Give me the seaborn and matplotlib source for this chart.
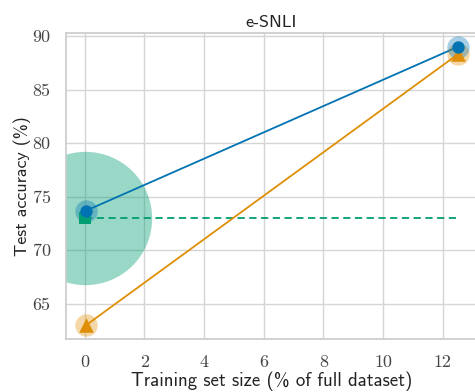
import matplotlib
matplotlib.use("Agg")
import matplotlib.pyplot as plt
import seaborn as sns
import pandas as pd

# Training set size (% of full dataset) and test accuracy (%)
sizes = [0.05, 12.5]
acc_blue = [73.7, 89.0]
acc_orange = [63.0, 88.3]
baseline_x = [0.0, 12.5]
baseline_acc = [73.0, 73.0]

title = "e-SNLI"
xlabel = "Training set size (% of full dataset)"
ylabel = "Test accuracy (%)"

sns.set_theme(style="whitegrid")
pal = sns.color_palette("colorblind")
c_blue, c_orange, c_green = pal[0], pal[1], pal[2]

fig = plt.figure(figsize=(4.75, 3.92), dpi=100)
ax = fig.add_axes([0.139, 0.135, 0.864, 0.781])

df_b = pd.DataFrame({"x": sizes, "y": acc_blue})
df_o = pd.DataFrame({"x": sizes, "y": acc_orange})
df_g = pd.DataFrame({"x": baseline_x, "y": baseline_acc})

# baseline: big translucent disc, dashed reference line, square marker
ax.scatter(baseline_x[:1], baseline_acc[:1], s=96**2, color=c_green,
           alpha=0.4, linewidths=0, zorder=1, clip_on=True)
sns.lineplot(data=df_g, x="x", y="y", ax=ax, color=c_green,
             linestyle=(0, (4, 2.5)), linewidth=1.3, zorder=2)
sns.scatterplot(x=baseline_x[:1], y=baseline_acc[:1], ax=ax, marker="s",
                s=64, color=c_green, linewidth=0, zorder=5)

# model curves with soft halos
sns.lineplot(data=df_b, x="x", y="y", ax=ax, color=c_blue, linewidth=1.3, zorder=3)
sns.lineplot(data=df_o, x="x", y="y", ax=ax, color=c_orange, linewidth=1.3, zorder=3)
for df, col, mk, s in [(df_o, c_orange, "^", 110), (df_b, c_blue, "o", 80)]:
    sns.scatterplot(data=df, x="x", y="y", ax=ax, s=260, color=col,
                    alpha=0.35, linewidth=0, zorder=4)
    sns.scatterplot(data=df, x="x", y="y", ax=ax, s=s, color=col,
                    marker=mk, linewidth=0, zorder=6)

ax.set_xlim(-0.625, 13.125)
ax.set_ylim(61.7, 90.3)
ax.set_xticks([0, 2, 4, 6, 8, 10, 12])
ax.set_yticks([65, 70, 75, 80, 85, 90])

for lab in ax.get_xticklabels() + ax.get_yticklabels():
    lab.set_fontfamily("cmr10")
    lab.set_fontsize(13)
    lab.set_color("#444444")
ax.tick_params(axis="both", pad=5)

ax.set_xlabel(xlabel, fontfamily="cmss10", fontsize=13.6, color="#222222", labelpad=1)
ax.set_ylabel(ylabel, fontfamily="cmss10", fontsize=13, color="#222222", labelpad=1)
ax.set_title(title, fontfamily="cmss10", fontsize=13, color="#222222", pad=4)

for sp in ax.spines.values():
    sp.set_color("#cccccc")
ax.grid(color="#d5d5d5", linewidth=1.0)

fig.savefig("out.png", dpi=100)
